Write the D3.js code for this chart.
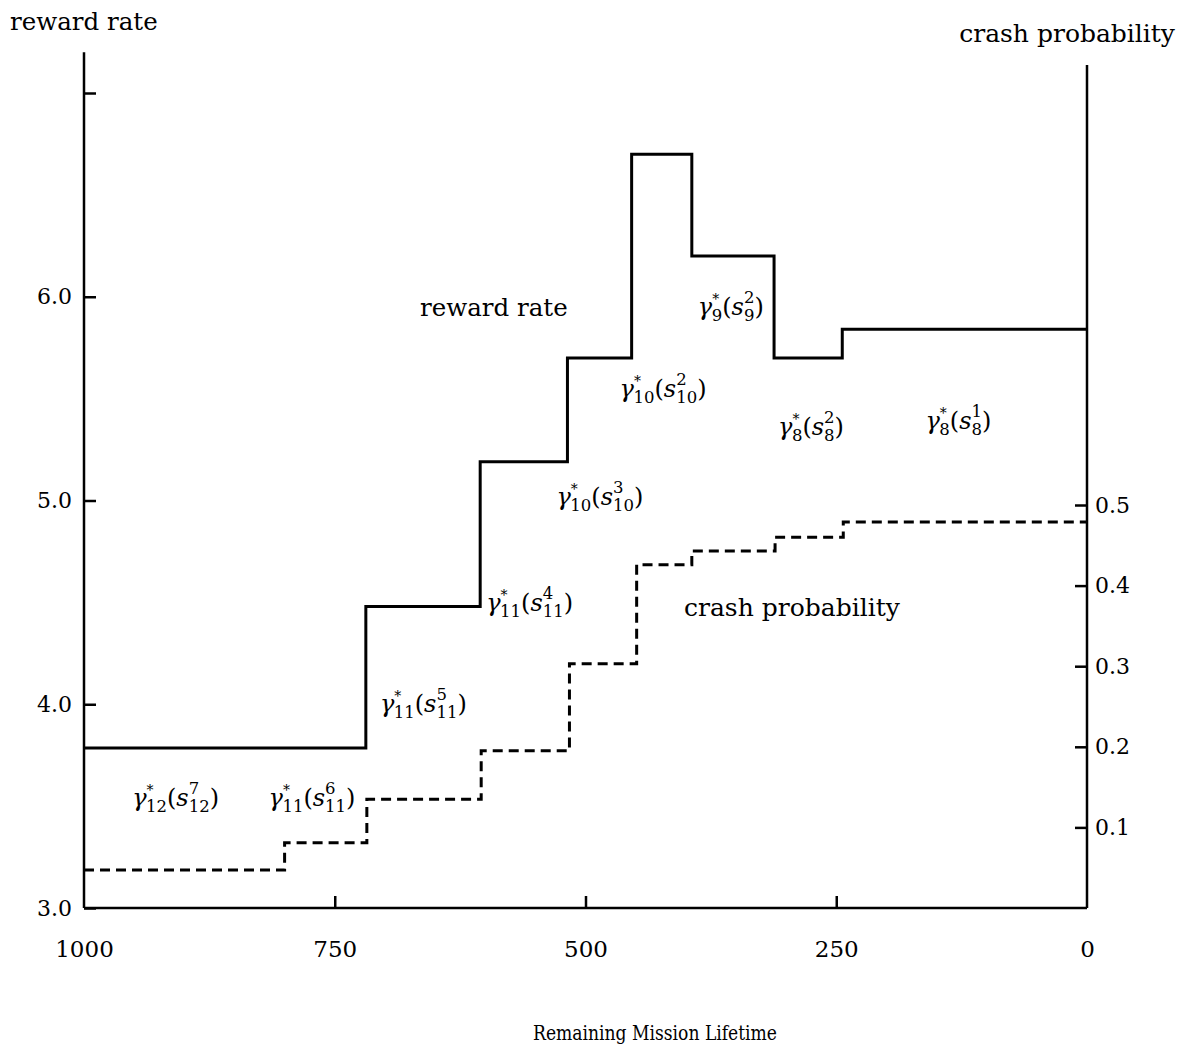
<!DOCTYPE html>
<html><head><meta charset="utf-8">
<script src="https://cdn.jsdelivr.net/npm/d3@7"></script>
<style>
body{margin:0;background:#fff}
text{font-family:"DejaVu Serif",serif;fill:#000}
</style>
</head><body>
<svg id="c" width="1193" height="1055"></svg>
<script>
// ---- data ----
const rewardBreaks = [1000, 719, 605, 518, 454, 394, 312, 244, 0];
const rewardValues = [3.785, 4.48, 5.19, 5.70, 6.70, 6.20, 5.70, 5.84];
const crashBreaks  = [1000, 800, 718, 604, 516, 449, 394, 311, 243, 0];
const crashValues  = [0.047, 0.081, 0.135, 0.195, 0.303, 0.426, 0.443, 0.460, 0.479];
const xTicks = [1000, 750, 500, 250, 0];
const rewardTicks = [3, 4, 5, 6, 7];
const crashTicks = [0.1, 0.2, 0.3, 0.4, 0.5];
// annotation labels: gamma*_stage(s_stage^state), anchored at (lifetime, reward rate)
const annStage = [12, 11, 11, 11, 10, 10, 9, 8, 8];
const annState = [7, 6, 5, 4, 3, 2, 2, 2, 1];
const annX     = [952, 816, 705, 599, 529, 466, 388, 308, 161];
const annY     = [3.50, 3.50, 3.96, 4.46, 4.98, 5.51, 5.91, 5.32, 5.35];

// ---- scales ----
const svg = d3.select("#c");
const x = d3.scaleLinear().domain([1000, 0]).range([84, 1087]);
const y = d3.scaleLinear().domain([3, 7]).range([908, 93]);
const y2 = d3.scaleLinear().domain([0, 0.5]).range([908, 505]);

// ---- axes ----
const axL = svg.append("g").attr("transform", `translate(${x(1000)},0)`)
  .call(d3.axisLeft(y).tickValues(rewardTicks).tickSizeInner(-12).tickSizeOuter(0).tickPadding(12)
    .tickFormat(d => d === 7 ? "" : d3.format(".1f")(d)));
const axB = svg.append("g").attr("transform", `translate(0,${y(3)})`)
  .call(d3.axisBottom(x).tickValues(xTicks).tickSizeInner(-12).tickSizeOuter(0).tickPadding(33)
    .tickFormat(d3.format("d")));
const axR = svg.append("g").attr("transform", `translate(${x(0)},0)`)
  .call(d3.axisRight(y2).tickValues(crashTicks).tickSizeInner(-12).tickSizeOuter(0).tickPadding(8)
    .tickFormat(d3.format(".1f")));
[axL, axB, axR].forEach(a => {
  a.select(".domain").remove();
  a.selectAll(".tick line").attr("stroke", "#000").attr("stroke-width", 2.5);
  a.selectAll(".tick text").style("font-size", "22px").attr("fill", "#000");
});
axB.selectAll(".tick text").style("font-size", "23px");
axB.selectAll(".tick line").filter(d => d === 1000 || d === 0).remove();
// axis lines
svg.append("line").attr("x1", x(1000)).attr("x2", x(1000)).attr("y1", y(3)).attr("y2", y(7.2))
  .attr("stroke", "#000").attr("stroke-width", 2.5);
svg.append("line").attr("x1", x(0)).attr("x2", x(0)).attr("y1", y(3)).attr("y2", y2(1.046))
  .attr("stroke", "#000").attr("stroke-width", 2.5);
svg.append("line").attr("x1", x(1000)).attr("x2", x(0)).attr("y1", y(3)).attr("y2", y(3))
  .attr("stroke", "#000").attr("stroke-width", 2.5);

// ---- step lines ----
function stepPts(breaks, vals) {
  const p = vals.map((v, i) => [breaks[i], v]);
  p.push([breaks[breaks.length - 1], vals[vals.length - 1]]);
  return p;
}
svg.append("path")
  .attr("d", d3.line().x(d => x(d[0])).y(d => y(d[1])).curve(d3.curveStepAfter)(stepPts(rewardBreaks, rewardValues)))
  .attr("fill", "none").attr("stroke", "#000").attr("stroke-width", 3);
svg.append("path")
  .attr("d", d3.line().x(d => x(d[0])).y(d => y2(d[1])).curve(d3.curveStepAfter)(stepPts(crashBreaks, crashValues)))
  .attr("fill", "none").attr("stroke", "#000").attr("stroke-width", 3).attr("stroke-dasharray", "10,6");

// ---- titles ----
svg.append("text").attr("x", 10).attr("y", 30).style("font-size", "24.5px").text("reward rate");
svg.append("text").attr("x", 1175).attr("y", 42).attr("text-anchor", "end").style("font-size", "25px").text("crash probability");
svg.append("text").attr("x", 533).attr("y", 1040).style("font-size", "21px")
  .attr("textLength", 244).attr("lengthAdjust", "spacingAndGlyphs").text("Remaining Mission Lifetime");
svg.append("text").attr("x", 420).attr("y", 316).style("font-size", "24.5px").text("reward rate");
svg.append("text").attr("x", 684).attr("y", 616).style("font-size", "25px").text("crash probability");

// ---- gamma labels ----
annStage.forEach((k, i) => {
  const t = svg.append("text").attr("x", x(annX[i])).attr("y", y(annY[i])).style("font-size", "24px");
  t.append("tspan").style("font-style", "italic").text("γ");
  t.append("tspan").attr("dy", -11).style("font-size", "14px").text("*");
  t.append("tspan").attr("dx", -7.5).attr("dy", 17).style("font-size", "16.5px").text(k);
  t.append("tspan").attr("dy", -6).text("(");
  t.append("tspan").style("font-style", "italic").text("s");
  t.append("tspan").attr("dy", -12).style("font-size", "16.5px").text(annState[i]);
  t.append("tspan").attr("dx", -10.5).attr("dy", 18).style("font-size", "16.5px").text(k);
  t.append("tspan").attr("dy", -6).text(")");
});
</script>
</body></html>
